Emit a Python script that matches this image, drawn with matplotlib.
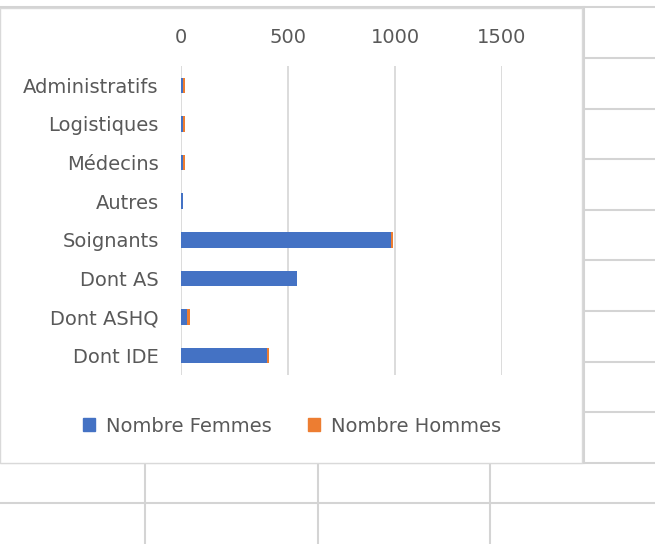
import matplotlib.pyplot as plt
from matplotlib.lines import Line2D
from matplotlib.patches import Rectangle, Patch

plt.rcParams['font.family'] = ['DejaVu Sans']

categories = ['Administratifs', 'Logistiques', 'Médecins', 'Autres',
              'Soignants', 'Dont AS', 'Dont ASHQ', 'Dont IDE']
femmes = [10, 10, 10, 9, 982, 540, 30, 402]
hommes = [8, 8, 8, 0, 10, 1, 11, 9]
xticks = [0, 500, 1000, 1500]

W, H = 655, 544
fig = plt.figure(figsize=(W / 100, H / 100), dpi=100)
fig.patch.set_facecolor('white')

grey = '#595959'
cell = '#D4D4D4'

def px_line(x0, y0, x1, y1, lw=1.5, color=cell):
    fig.add_artist(Line2D([x0 / W, x1 / W], [1 - y0 / H, 1 - y1 / H],
                          transform=fig.transFigure, color=color, lw=lw,
                          zorder=-2))

# spreadsheet cells around the chart
for y in [57.6, 108.7, 159, 209.7, 260, 310.8, 361.5, 412, 462.5]:
    px_line(583, y, W, y)
px_line(0, 7, W, 7)
px_line(0, 503, W, 503)
px_line(0, 462.5, 583, 462.5)
for x in [144.5, 318, 490]:
    px_line(x, 463, x, H)
px_line(583.5, 7, 583.5, 463)

# chart area box
fig.add_artist(Rectangle((0, 1 - 462.5 / H), 581.5 / W, (462.5 - 7.5) / H,
                         transform=fig.transFigure, facecolor='white',
                         edgecolor='#D9D9D9', lw=1.0, zorder=-1))

ax = fig.add_axes([181 / W, 1 - 375 / H, (502 - 181) / W, (375 - 66) / H])
ax.set_zorder(1)
ax.set_facecolor('none')
y = range(len(categories))
ax.barh(y, femmes, height=0.4, color='#4472C4', label='Nombre Femmes', zorder=3)
ax.barh(y, hommes, left=femmes, height=0.4, color='#ED7D31',
        label='Nombre Hommes', zorder=3)

ax.set_xlim(0, 1500)
ax.set_ylim(len(categories) - 0.5, -0.5)
ax.set_xticks(xticks)
ax.set_xticklabels([str(t) for t in xticks])
ax.set_yticks(list(y))
ax.set_yticklabels(categories)
ax.xaxis.tick_top()
ax.tick_params(axis='x', length=0, pad=14, labelsize=14, labelcolor=grey)
ax.tick_params(axis='y', length=0, pad=16, labelsize=14, labelcolor=grey)
ax.grid(axis='x', color='#D9D9D9', lw=1.3, zorder=0)
for s in ax.spines.values():
    s.set_visible(False)

handles = [Patch(color='#4472C4'), Patch(color='#ED7D31')]
leg = fig.legend(handles, ['Nombre Femmes', 'Nombre Hommes'], loc='center',
                 bbox_to_anchor=(292 / W, 1 - 426 / H), ncol=2, frameon=False,
                 fontsize=14, handlelength=0.6, handleheight=0.6,
                 handletextpad=0.55, columnspacing=1.9)
for t in leg.get_texts():
    t.set_color(grey)

fig.savefig('out.png', dpi=100)
